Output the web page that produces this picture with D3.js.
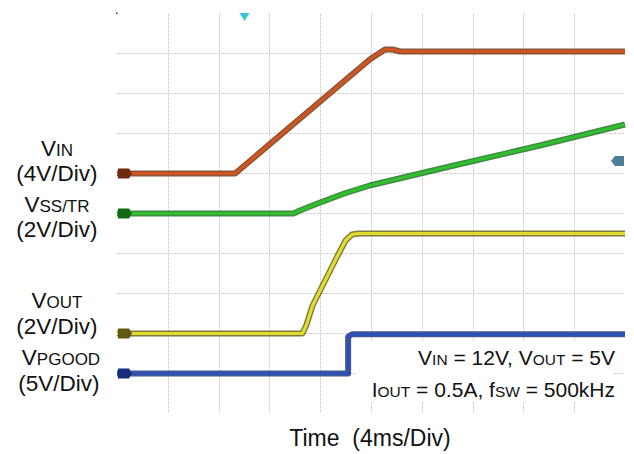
<!DOCTYPE html>
<html>
<head>
<meta charset="utf-8">
<script src="https://cdn.jsdelivr.net/npm/d3@7"></script>
<style>
  body { margin: 0; background: #fff; }
  text { font-family: "Liberation Sans", Arial, sans-serif; fill: #111; }
</style>
</head>
<body>
<script>
// scope capture: time in ms, voltages in V
var vinT  = [0, 9.3, 19.9, 21.1, 21.7, 22.3, 40];
var vinV  = [0, 0, 11.4, 12.4, 12.4, 12.2, 12.2];
var vssT  = [0, 13.9, 14.4, 16.0, 17.9, 19.9, 26.2, 33.3, 40];
var vssV  = [0, 0, 0.15, 0.55, 1.0, 1.4, 2.35, 3.4, 4.45];
var voutT = [0, 14.6, 14.9, 15.4, 17.3, 18.0, 18.5, 19.0, 40];
var voutV = [0, 0, 0.4, 1.4, 3.8, 4.65, 4.95, 5.0, 5.0];
var pgT   = [0, 18.2, 18.2, 18.5, 40];
var pgV   = [0, 0, 4.6, 4.9, 4.9];

// channel settings: volts per division and ground position (divisions from bottom)
var channels = [
  {name: "VIN",   t: vinT,  v: vinV,  vdiv: 4, zero: 6, color: "#d0561e", dark: "#6e2a0c"},
  {name: "VSS",   t: vssT,  v: vssV,  vdiv: 2, zero: 5, color: "#2fbf2f", dark: "#146a14"},
  {name: "VOUT",  t: voutT, v: voutV, vdiv: 2, zero: 2, color: "#e2dc2c", dark: "#5e5810"},
  {name: "VPG",   t: pgT,   v: pgV,   vdiv: 5, zero: 1, color: "#2c52b6", dark: "#172c7a"}
];

var W = 634, H = 454;
var plotL = 117, plotR = 625, plotT = 13.5, plotB = 413.5;

var svg = d3.select("body").append("svg")
  .attr("width", W)
  .attr("height", H);

var x = d3.scaleLinear().domain([0, 40]).range([plotL, plotR]);
var y = d3.scaleLinear().domain([0, 10]).range([plotB, plotT]);

// grid
var grid = svg.append("g");
d3.range(1, 10).forEach(function(i) {
  grid.append("line")
    .attr("x1", Math.round(x(i * 4)) + 0.5).attr("x2", Math.round(x(i * 4)) + 0.5)
    .attr("y1", plotT).attr("y2", plotB)
    .attr("stroke", "#d2d2d2").attr("stroke-dasharray", "3,1");
  grid.append("line")
    .attr("x1", plotL).attr("x2", plotR)
    .attr("y1", y(i)).attr("y2", y(i))
    .attr("stroke", "#d2d2d2").attr("stroke-dasharray", "3,1");
});

// white box behind the conditions text
svg.append("rect")
  .attr("x", 356).attr("y", 341).attr("width", 258).attr("height", 61)
  .attr("fill", "#fff");

var line = d3.line()
  .x(function(d) { return x(d.t); })
  .y(function(d) { return y(d.c.zero + d.v / d.c.vdiv); });

channels.forEach(function(c) {
  var pts = c.t.map(function(t, i) { return {t: t, v: c.v[i], c: c}; });
  svg.append("path").datum(pts)
    .attr("d", line).attr("fill", "none")
    .attr("stroke", c.dark).attr("stroke-width", 6)
    .attr("stroke-linejoin", "round").attr("opacity", 0.8);
  svg.append("path").datum(pts)
    .attr("d", line).attr("fill", "none")
    .attr("stroke", c.color).attr("stroke-width", 3.2)
    .attr("stroke-linejoin", "round");
  // channel ground tag
  var yy = y(c.zero);
  svg.append("path")
    .attr("d", "M" + (plotL + 1) + "," + (yy - 5) + "h11l3,5l-3,5h-11z")
    .attr("fill", c.dark);
});

// trigger position marker
svg.append("path")
  .attr("d", "M239.5,13h10l-5,8z")
  .attr("fill", "#3cc4dc");
// trigger level marker
svg.append("path")
  .attr("d", "M611,161l4,-5h9v10h-9z")
  .attr("fill", "#4d7f96");
svg.append("rect").attr("x", 116).attr("y", 12.5).attr("width", 1.5).attr("height", 1.5).attr("fill", "#333");

// left channel labels
function label(xp, yp, main, sub) {
  var t = svg.append("text")
    .attr("x", xp).attr("y", yp)
    .attr("text-anchor", "middle")
    .style("font-size", "22.5px");
  t.append("tspan").text(main);
  if (sub) t.append("tspan").style("font-size", "17px").text(sub);
  return t;
}
label(57, 156, "V", "IN");
label(57, 181, "(4V/Div)");
label(57, 212, "V", "SS/TR");
label(57, 237, "(2V/Div)");
label(57, 308, "V", "OUT");
label(57, 334, "(2V/Div)");
label(61, 365, "V", "PGOOD");
label(59, 391, "(5V/Div)");

// conditions
var c1 = svg.append("text").attr("x", 615).attr("y", 365)
  .attr("text-anchor", "end").style("font-size", "21px");
c1.append("tspan").text("V");
c1.append("tspan").style("font-size", "15.5px").text("IN");
c1.append("tspan").text(" = 12V, V");
c1.append("tspan").style("font-size", "15.5px").text("OUT");
c1.append("tspan").text(" = 5V");

var c2 = svg.append("text").attr("x", 615).attr("y", 397)
  .attr("text-anchor", "end").style("font-size", "21px");
c2.append("tspan").text("I");
c2.append("tspan").style("font-size", "15.5px").text("OUT");
c2.append("tspan").text(" = 0.5A, f");
c2.append("tspan").style("font-size", "15.5px").text("SW");
c2.append("tspan").text(" = 500kHz");

svg.append("text")
  .attr("x", 370).attr("y", 446)
  .attr("text-anchor", "middle")
  .style("font-size", "23px")
  .style("white-space", "pre")
  .text("Time  (4ms/Div)");
</script>
</body>
</html>
